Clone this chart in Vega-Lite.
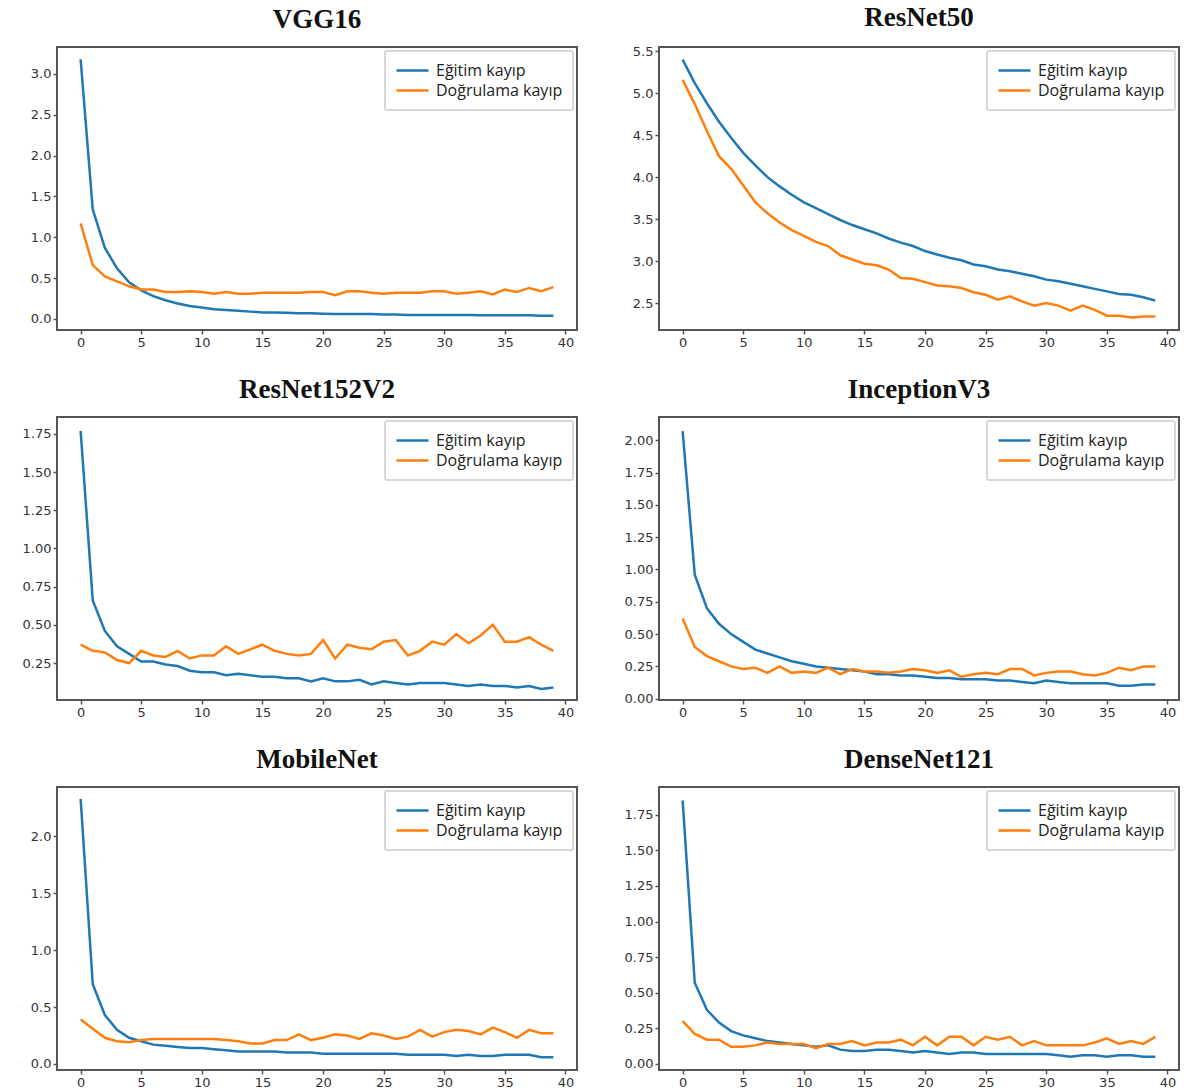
{
"$schema":"https://vega.github.io/schema/vega-lite/v6.json",
"padding":{"left":21,"top":3,"right":4,"bottom":0},
"background":"white",
"datasets":{"d":[
{"m":"VGG16","e":0,"t":3.18,"v":1.17},{"m":"VGG16","e":1,"t":1.34,"v":0.66},{"m":"VGG16","e":2,"t":0.87,"v":0.52},{"m":"VGG16","e":3,"t":0.62,"v":0.46},{"m":"VGG16","e":4,"t":0.45,"v":0.40},{"m":"VGG16","e":5,"t":0.35,"v":0.36},{"m":"VGG16","e":6,"t":0.28,"v":0.36},{"m":"VGG16","e":7,"t":0.23,"v":0.33},{"m":"VGG16","e":8,"t":0.19,"v":0.33},{"m":"VGG16","e":9,"t":0.16,"v":0.34},
{"m":"VGG16","e":10,"t":0.14,"v":0.33},{"m":"VGG16","e":11,"t":0.12,"v":0.31},{"m":"VGG16","e":12,"t":0.11,"v":0.33},{"m":"VGG16","e":13,"t":0.10,"v":0.31},{"m":"VGG16","e":14,"t":0.09,"v":0.31},{"m":"VGG16","e":15,"t":0.08,"v":0.32},{"m":"VGG16","e":16,"t":0.08,"v":0.32},{"m":"VGG16","e":17,"t":0.075,"v":0.32},{"m":"VGG16","e":18,"t":0.07,"v":0.32},{"m":"VGG16","e":19,"t":0.07,"v":0.33},
{"m":"VGG16","e":20,"t":0.065,"v":0.33},{"m":"VGG16","e":21,"t":0.06,"v":0.29},{"m":"VGG16","e":22,"t":0.06,"v":0.34},{"m":"VGG16","e":23,"t":0.06,"v":0.34},{"m":"VGG16","e":24,"t":0.06,"v":0.32},{"m":"VGG16","e":25,"t":0.055,"v":0.31},{"m":"VGG16","e":26,"t":0.055,"v":0.32},{"m":"VGG16","e":27,"t":0.05,"v":0.32},{"m":"VGG16","e":28,"t":0.05,"v":0.32},{"m":"VGG16","e":29,"t":0.05,"v":0.34},
{"m":"VGG16","e":30,"t":0.05,"v":0.34},{"m":"VGG16","e":31,"t":0.05,"v":0.31},{"m":"VGG16","e":32,"t":0.05,"v":0.32},{"m":"VGG16","e":33,"t":0.045,"v":0.34},{"m":"VGG16","e":34,"t":0.045,"v":0.30},{"m":"VGG16","e":35,"t":0.045,"v":0.36},{"m":"VGG16","e":36,"t":0.045,"v":0.33},{"m":"VGG16","e":37,"t":0.045,"v":0.38},{"m":"VGG16","e":38,"t":0.04,"v":0.34},{"m":"VGG16","e":39,"t":0.04,"v":0.39},
{"m":"ResNet50","e":0,"t":5.40,"v":5.16},{"m":"ResNet50","e":1,"t":5.12,"v":4.87},{"m":"ResNet50","e":2,"t":4.88,"v":4.55},{"m":"ResNet50","e":3,"t":4.66,"v":4.25},{"m":"ResNet50","e":4,"t":4.47,"v":4.10},{"m":"ResNet50","e":5,"t":4.29,"v":3.90},{"m":"ResNet50","e":6,"t":4.14,"v":3.70},{"m":"ResNet50","e":7,"t":4.00,"v":3.57},{"m":"ResNet50","e":8,"t":3.89,"v":3.46},{"m":"ResNet50","e":9,"t":3.79,"v":3.37},
{"m":"ResNet50","e":10,"t":3.70,"v":3.30},{"m":"ResNet50","e":11,"t":3.63,"v":3.23},{"m":"ResNet50","e":12,"t":3.56,"v":3.18},{"m":"ResNet50","e":13,"t":3.49,"v":3.07},{"m":"ResNet50","e":14,"t":3.43,"v":3.02},{"m":"ResNet50","e":15,"t":3.38,"v":2.97},{"m":"ResNet50","e":16,"t":3.33,"v":2.95},{"m":"ResNet50","e":17,"t":3.27,"v":2.90},{"m":"ResNet50","e":18,"t":3.22,"v":2.80},{"m":"ResNet50","e":19,"t":3.18,"v":2.79},
{"m":"ResNet50","e":20,"t":3.12,"v":2.75},{"m":"ResNet50","e":21,"t":3.08,"v":2.71},{"m":"ResNet50","e":22,"t":3.04,"v":2.70},{"m":"ResNet50","e":23,"t":3.01,"v":2.68},{"m":"ResNet50","e":24,"t":2.96,"v":2.63},{"m":"ResNet50","e":25,"t":2.94,"v":2.60},{"m":"ResNet50","e":26,"t":2.90,"v":2.54},{"m":"ResNet50","e":27,"t":2.88,"v":2.58},{"m":"ResNet50","e":28,"t":2.85,"v":2.52},{"m":"ResNet50","e":29,"t":2.82,"v":2.47},
{"m":"ResNet50","e":30,"t":2.78,"v":2.50},{"m":"ResNet50","e":31,"t":2.76,"v":2.47},{"m":"ResNet50","e":32,"t":2.73,"v":2.41},{"m":"ResNet50","e":33,"t":2.70,"v":2.47},{"m":"ResNet50","e":34,"t":2.67,"v":2.42},{"m":"ResNet50","e":35,"t":2.64,"v":2.35},{"m":"ResNet50","e":36,"t":2.61,"v":2.35},{"m":"ResNet50","e":37,"t":2.60,"v":2.33},{"m":"ResNet50","e":38,"t":2.57,"v":2.34},{"m":"ResNet50","e":39,"t":2.53,"v":2.34},
{"m":"ResNet152V2","e":0,"t":1.77,"v":0.37},{"m":"ResNet152V2","e":1,"t":0.66,"v":0.33},{"m":"ResNet152V2","e":2,"t":0.46,"v":0.32},{"m":"ResNet152V2","e":3,"t":0.36,"v":0.27},{"m":"ResNet152V2","e":4,"t":0.31,"v":0.25},{"m":"ResNet152V2","e":5,"t":0.26,"v":0.33},{"m":"ResNet152V2","e":6,"t":0.26,"v":0.30},{"m":"ResNet152V2","e":7,"t":0.24,"v":0.29},{"m":"ResNet152V2","e":8,"t":0.23,"v":0.33},{"m":"ResNet152V2","e":9,"t":0.20,"v":0.28},
{"m":"ResNet152V2","e":10,"t":0.19,"v":0.30},{"m":"ResNet152V2","e":11,"t":0.19,"v":0.30},{"m":"ResNet152V2","e":12,"t":0.17,"v":0.36},{"m":"ResNet152V2","e":13,"t":0.18,"v":0.31},{"m":"ResNet152V2","e":14,"t":0.17,"v":0.34},{"m":"ResNet152V2","e":15,"t":0.16,"v":0.37},{"m":"ResNet152V2","e":16,"t":0.16,"v":0.33},{"m":"ResNet152V2","e":17,"t":0.15,"v":0.31},{"m":"ResNet152V2","e":18,"t":0.15,"v":0.30},{"m":"ResNet152V2","e":19,"t":0.13,"v":0.31},
{"m":"ResNet152V2","e":20,"t":0.15,"v":0.40},{"m":"ResNet152V2","e":21,"t":0.13,"v":0.28},{"m":"ResNet152V2","e":22,"t":0.13,"v":0.37},{"m":"ResNet152V2","e":23,"t":0.14,"v":0.35},{"m":"ResNet152V2","e":24,"t":0.11,"v":0.34},{"m":"ResNet152V2","e":25,"t":0.13,"v":0.39},{"m":"ResNet152V2","e":26,"t":0.12,"v":0.40},{"m":"ResNet152V2","e":27,"t":0.11,"v":0.30},{"m":"ResNet152V2","e":28,"t":0.12,"v":0.33},{"m":"ResNet152V2","e":29,"t":0.12,"v":0.39},
{"m":"ResNet152V2","e":30,"t":0.12,"v":0.37},{"m":"ResNet152V2","e":31,"t":0.11,"v":0.44},{"m":"ResNet152V2","e":32,"t":0.10,"v":0.38},{"m":"ResNet152V2","e":33,"t":0.11,"v":0.43},{"m":"ResNet152V2","e":34,"t":0.10,"v":0.50},{"m":"ResNet152V2","e":35,"t":0.10,"v":0.39},{"m":"ResNet152V2","e":36,"t":0.09,"v":0.39},{"m":"ResNet152V2","e":37,"t":0.10,"v":0.42},{"m":"ResNet152V2","e":38,"t":0.08,"v":0.37},{"m":"ResNet152V2","e":39,"t":0.09,"v":0.33},
{"m":"InceptionV3","e":0,"t":2.07,"v":0.62},{"m":"InceptionV3","e":1,"t":0.96,"v":0.40},{"m":"InceptionV3","e":2,"t":0.70,"v":0.33},{"m":"InceptionV3","e":3,"t":0.58,"v":0.29},{"m":"InceptionV3","e":4,"t":0.50,"v":0.25},{"m":"InceptionV3","e":5,"t":0.44,"v":0.23},{"m":"InceptionV3","e":6,"t":0.38,"v":0.24},{"m":"InceptionV3","e":7,"t":0.35,"v":0.20},{"m":"InceptionV3","e":8,"t":0.32,"v":0.25},{"m":"InceptionV3","e":9,"t":0.29,"v":0.20},
{"m":"InceptionV3","e":10,"t":0.27,"v":0.21},{"m":"InceptionV3","e":11,"t":0.25,"v":0.20},{"m":"InceptionV3","e":12,"t":0.24,"v":0.24},{"m":"InceptionV3","e":13,"t":0.23,"v":0.19},{"m":"InceptionV3","e":14,"t":0.22,"v":0.23},{"m":"InceptionV3","e":15,"t":0.21,"v":0.21},{"m":"InceptionV3","e":16,"t":0.19,"v":0.21},{"m":"InceptionV3","e":17,"t":0.19,"v":0.20},{"m":"InceptionV3","e":18,"t":0.18,"v":0.21},{"m":"InceptionV3","e":19,"t":0.18,"v":0.23},
{"m":"InceptionV3","e":20,"t":0.17,"v":0.22},{"m":"InceptionV3","e":21,"t":0.16,"v":0.20},{"m":"InceptionV3","e":22,"t":0.16,"v":0.22},{"m":"InceptionV3","e":23,"t":0.15,"v":0.17},{"m":"InceptionV3","e":24,"t":0.15,"v":0.19},{"m":"InceptionV3","e":25,"t":0.15,"v":0.20},{"m":"InceptionV3","e":26,"t":0.14,"v":0.19},{"m":"InceptionV3","e":27,"t":0.14,"v":0.23},{"m":"InceptionV3","e":28,"t":0.13,"v":0.23},{"m":"InceptionV3","e":29,"t":0.12,"v":0.18},
{"m":"InceptionV3","e":30,"t":0.14,"v":0.20},{"m":"InceptionV3","e":31,"t":0.13,"v":0.21},{"m":"InceptionV3","e":32,"t":0.12,"v":0.21},{"m":"InceptionV3","e":33,"t":0.12,"v":0.19},{"m":"InceptionV3","e":34,"t":0.12,"v":0.18},{"m":"InceptionV3","e":35,"t":0.12,"v":0.20},{"m":"InceptionV3","e":36,"t":0.10,"v":0.24},{"m":"InceptionV3","e":37,"t":0.10,"v":0.22},{"m":"InceptionV3","e":38,"t":0.11,"v":0.25},{"m":"InceptionV3","e":39,"t":0.11,"v":0.25},
{"m":"MobileNet","e":0,"t":2.33,"v":0.39},{"m":"MobileNet","e":1,"t":0.70,"v":0.31},{"m":"MobileNet","e":2,"t":0.43,"v":0.23},{"m":"MobileNet","e":3,"t":0.30,"v":0.20},{"m":"MobileNet","e":4,"t":0.23,"v":0.19},{"m":"MobileNet","e":5,"t":0.20,"v":0.21},{"m":"MobileNet","e":6,"t":0.17,"v":0.22},{"m":"MobileNet","e":7,"t":0.16,"v":0.22},{"m":"MobileNet","e":8,"t":0.15,"v":0.22},{"m":"MobileNet","e":9,"t":0.14,"v":0.22},
{"m":"MobileNet","e":10,"t":0.14,"v":0.22},{"m":"MobileNet","e":11,"t":0.13,"v":0.22},{"m":"MobileNet","e":12,"t":0.12,"v":0.21},{"m":"MobileNet","e":13,"t":0.11,"v":0.20},{"m":"MobileNet","e":14,"t":0.11,"v":0.18},{"m":"MobileNet","e":15,"t":0.11,"v":0.18},{"m":"MobileNet","e":16,"t":0.11,"v":0.21},{"m":"MobileNet","e":17,"t":0.10,"v":0.21},{"m":"MobileNet","e":18,"t":0.10,"v":0.26},{"m":"MobileNet","e":19,"t":0.10,"v":0.21},
{"m":"MobileNet","e":20,"t":0.09,"v":0.23},{"m":"MobileNet","e":21,"t":0.09,"v":0.26},{"m":"MobileNet","e":22,"t":0.09,"v":0.25},{"m":"MobileNet","e":23,"t":0.09,"v":0.22},{"m":"MobileNet","e":24,"t":0.09,"v":0.27},{"m":"MobileNet","e":25,"t":0.09,"v":0.25},{"m":"MobileNet","e":26,"t":0.09,"v":0.22},{"m":"MobileNet","e":27,"t":0.08,"v":0.24},{"m":"MobileNet","e":28,"t":0.08,"v":0.30},{"m":"MobileNet","e":29,"t":0.08,"v":0.24},
{"m":"MobileNet","e":30,"t":0.08,"v":0.28},{"m":"MobileNet","e":31,"t":0.07,"v":0.30},{"m":"MobileNet","e":32,"t":0.08,"v":0.29},{"m":"MobileNet","e":33,"t":0.07,"v":0.26},{"m":"MobileNet","e":34,"t":0.07,"v":0.32},{"m":"MobileNet","e":35,"t":0.08,"v":0.28},{"m":"MobileNet","e":36,"t":0.08,"v":0.23},{"m":"MobileNet","e":37,"t":0.08,"v":0.30},{"m":"MobileNet","e":38,"t":0.06,"v":0.27},{"m":"MobileNet","e":39,"t":0.06,"v":0.27},
{"m":"DenseNet121","e":0,"t":1.85,"v":0.30},{"m":"DenseNet121","e":1,"t":0.57,"v":0.21},{"m":"DenseNet121","e":2,"t":0.38,"v":0.17},{"m":"DenseNet121","e":3,"t":0.29,"v":0.17},{"m":"DenseNet121","e":4,"t":0.23,"v":0.12},{"m":"DenseNet121","e":5,"t":0.20,"v":0.12},{"m":"DenseNet121","e":6,"t":0.18,"v":0.13},{"m":"DenseNet121","e":7,"t":0.16,"v":0.15},{"m":"DenseNet121","e":8,"t":0.15,"v":0.14},{"m":"DenseNet121","e":9,"t":0.14,"v":0.14},
{"m":"DenseNet121","e":10,"t":0.13,"v":0.14},{"m":"DenseNet121","e":11,"t":0.12,"v":0.11},{"m":"DenseNet121","e":12,"t":0.13,"v":0.14},{"m":"DenseNet121","e":13,"t":0.10,"v":0.14},{"m":"DenseNet121","e":14,"t":0.09,"v":0.16},{"m":"DenseNet121","e":15,"t":0.09,"v":0.13},{"m":"DenseNet121","e":16,"t":0.10,"v":0.15},{"m":"DenseNet121","e":17,"t":0.10,"v":0.15},{"m":"DenseNet121","e":18,"t":0.09,"v":0.17},{"m":"DenseNet121","e":19,"t":0.08,"v":0.13},
{"m":"DenseNet121","e":20,"t":0.09,"v":0.19},{"m":"DenseNet121","e":21,"t":0.08,"v":0.13},{"m":"DenseNet121","e":22,"t":0.07,"v":0.19},{"m":"DenseNet121","e":23,"t":0.08,"v":0.19},{"m":"DenseNet121","e":24,"t":0.08,"v":0.13},{"m":"DenseNet121","e":25,"t":0.07,"v":0.19},{"m":"DenseNet121","e":26,"t":0.07,"v":0.17},{"m":"DenseNet121","e":27,"t":0.07,"v":0.19},{"m":"DenseNet121","e":28,"t":0.07,"v":0.13},{"m":"DenseNet121","e":29,"t":0.07,"v":0.16},
{"m":"DenseNet121","e":30,"t":0.07,"v":0.13},{"m":"DenseNet121","e":31,"t":0.06,"v":0.13},{"m":"DenseNet121","e":32,"t":0.05,"v":0.13},{"m":"DenseNet121","e":33,"t":0.06,"v":0.13},{"m":"DenseNet121","e":34,"t":0.06,"v":0.15},{"m":"DenseNet121","e":35,"t":0.05,"v":0.18},{"m":"DenseNet121","e":36,"t":0.06,"v":0.14},{"m":"DenseNet121","e":37,"t":0.06,"v":0.16},{"m":"DenseNet121","e":38,"t":0.05,"v":0.14},{"m":"DenseNet121","e":39,"t":0.05,"v":0.19}
]},
"data":{"name":"d"},
"columns":2,
"spacing":{"row":25,"column":45},
"resolve":{"scale":{"x":"independent","y":"independent","color":"independent"},"legend":{"color":"independent"}},
"concat":[
{"title":"VGG16","width":520,"height":283,
 "transform":[{"filter":"datum.m=='VGG16'"},{"fold":["t","v"],"as":["k","y"]}],
 "mark":{"type":"line","strokeWidth":2.5},
 "encoding":{
  "x":{"field":"e","type":"quantitative","scale":{"domain":[-1.95,40.95],"nice":false,"zero":false},"axis":{"values":[0,5,10,15,20,25,30,35,40]}},
  "y":{"field":"y","type":"quantitative","scale":{"domain":[-0.135,3.33],"nice":false,"zero":false},"axis":{"values":[0,0.5,1,1.5,2,2.5,3],"format":".1f"}},
  "color":{"field":"k","type":"nominal","scale":{"domain":["t","v"],"range":["#1f77b4","#ff7f0e"]},"legend":{"labelExpr":"datum.label == 't' ? 'Eğitim kayıp' : 'Doğrulama kayıp'"}}}},
{"title":"ResNet50","width":520,"height":283,
 "transform":[{"filter":"datum.m=='ResNet50'"},{"fold":["t","v"],"as":["k","y"]}],
 "mark":{"type":"line","strokeWidth":2.5},
 "encoding":{
  "x":{"field":"e","type":"quantitative","scale":{"domain":[-1.95,40.95],"nice":false,"zero":false},"axis":{"values":[0,5,10,15,20,25,30,35,40]}},
  "y":{"field":"y","type":"quantitative","scale":{"domain":[2.18,5.55],"nice":false,"zero":false},"axis":{"values":[2.5,3,3.5,4,4.5,5,5.5],"format":".1f"}},
  "color":{"field":"k","type":"nominal","scale":{"domain":["t","v"],"range":["#1f77b4","#ff7f0e"]},"legend":{"labelExpr":"datum.label == 't' ? 'Eğitim kayıp' : 'Doğrulama kayıp'"}}}},
{"title":"ResNet152V2","width":520,"height":283,
 "transform":[{"filter":"datum.m=='ResNet152V2'"},{"fold":["t","v"],"as":["k","y"]}],
 "mark":{"type":"line","strokeWidth":2.5},
 "encoding":{
  "x":{"field":"e","type":"quantitative","scale":{"domain":[-1.95,40.95],"nice":false,"zero":false},"axis":{"values":[0,5,10,15,20,25,30,35,40]}},
  "y":{"field":"y","type":"quantitative","scale":{"domain":[0.008,1.861],"nice":false,"zero":false},"axis":{"values":[0.25,0.5,0.75,1,1.25,1.5,1.75],"format":".2f"}},
  "color":{"field":"k","type":"nominal","scale":{"domain":["t","v"],"range":["#1f77b4","#ff7f0e"]},"legend":{"labelExpr":"datum.label == 't' ? 'Eğitim kayıp' : 'Doğrulama kayıp'"}}}},
{"title":"InceptionV3","width":520,"height":283,
 "transform":[{"filter":"datum.m=='InceptionV3'"},{"fold":["t","v"],"as":["k","y"]}],
 "mark":{"type":"line","strokeWidth":2.5},
 "encoding":{
  "x":{"field":"e","type":"quantitative","scale":{"domain":[-1.95,40.95],"nice":false,"zero":false},"axis":{"values":[0,5,10,15,20,25,30,35,40]}},
  "y":{"field":"y","type":"quantitative","scale":{"domain":[-0.01,2.18],"nice":false,"zero":false},"axis":{"values":[0,0.25,0.5,0.75,1,1.25,1.5,1.75,2],"format":".2f"}},
  "color":{"field":"k","type":"nominal","scale":{"domain":["t","v"],"range":["#1f77b4","#ff7f0e"]},"legend":{"labelExpr":"datum.label == 't' ? 'Eğitim kayıp' : 'Doğrulama kayıp'"}}}},
{"title":"MobileNet","width":520,"height":283,
 "transform":[{"filter":"datum.m=='MobileNet'"},{"fold":["t","v"],"as":["k","y"]}],
 "mark":{"type":"line","strokeWidth":2.5},
 "encoding":{
  "x":{"field":"e","type":"quantitative","scale":{"domain":[-1.95,40.95],"nice":false,"zero":false},"axis":{"values":[0,5,10,15,20,25,30,35,40]}},
  "y":{"field":"y","type":"quantitative","scale":{"domain":[-0.053,2.434],"nice":false,"zero":false},"axis":{"values":[0,0.5,1,1.5,2],"format":".1f"}},
  "color":{"field":"k","type":"nominal","scale":{"domain":["t","v"],"range":["#1f77b4","#ff7f0e"]},"legend":{"labelExpr":"datum.label == 't' ? 'Eğitim kayıp' : 'Doğrulama kayıp'"}}}},
{"title":"DenseNet121","width":520,"height":283,
 "transform":[{"filter":"datum.m=='DenseNet121'"},{"fold":["t","v"],"as":["k","y"]}],
 "mark":{"type":"line","strokeWidth":2.5},
 "encoding":{
  "x":{"field":"e","type":"quantitative","scale":{"domain":[-1.95,40.95],"nice":false,"zero":false},"axis":{"values":[0,5,10,15,20,25,30,35,40]}},
  "y":{"field":"y","type":"quantitative","scale":{"domain":[-0.043,1.945],"nice":false,"zero":false},"axis":{"values":[0,0.25,0.5,0.75,1,1.25,1.5,1.75],"format":".2f"}},
  "color":{"field":"k","type":"nominal","scale":{"domain":["t","v"],"range":["#1f77b4","#ff7f0e"]},"legend":{"labelExpr":"datum.label == 't' ? 'Eğitim kayıp' : 'Doğrulama kayıp'"}}}}
],
"config":{
 "view":{"stroke":"#555555","strokeWidth":2},
 "axis":{"domain":false,"grid":false,"title":null,"tickColor":"#555555","tickSize":4,"tickWidth":1.5,"labelFont":"DejaVu Sans","labelFontSize":13,"labelColor":"#333333","labelPadding":2,"labelOverlap":false,"labelFlush":false},
 "title":{"font":"Liberation Serif","fontSize":27,"fontWeight":"bold","color":"#111111","offset":13,"anchor":"middle"},
 "legend":{"orient":"top-right","title":null,"offset":4,"fillColor":"white","strokeColor":"#cccccc","strokeWidth":1.5,"cornerRadius":2,"padding":10,"symbolType":"stroke","symbolSize":1024,"symbolStrokeWidth":2.5,"labelFont":"Open Sans","labelFontSize":16,"labelColor":"#222222","rowPadding":1,"clipHeight":19,"labelOffset":6}
}
}
